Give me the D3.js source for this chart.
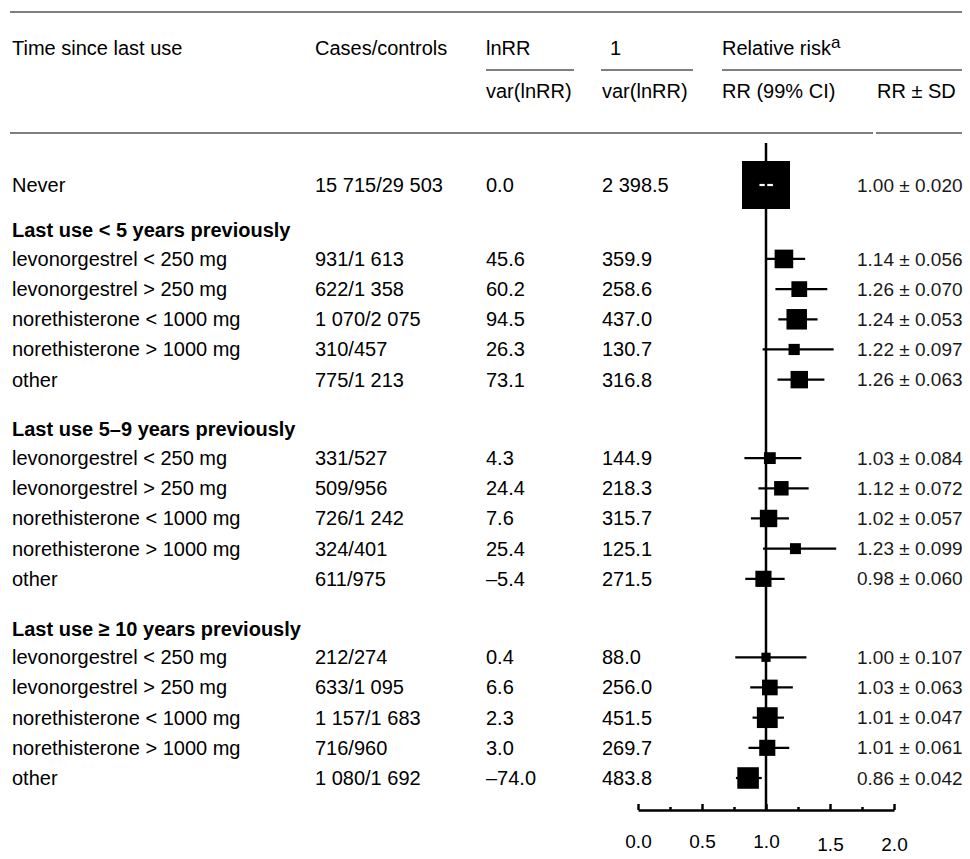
<!DOCTYPE html>
<html>
<head>
<meta charset="utf-8">
<script src="https://cdnjs.cloudflare.com/ajax/libs/d3/7.8.5/d3.min.js"></script>
<style>
  html, body { margin: 0; padding: 0; background: #fff; }
  svg { display: block; font-family: "Liberation Sans", Arial, sans-serif; }
  .rule { stroke: #555; stroke-width: 1.5; }
  .cell { font-size: 20px; fill: #000; }
  .group { font-size: 20px; font-weight: bold; fill: #000; }
  .rrsd { font-size: 19px; fill: #1a1a1a; }
  .axis path, .axis line { stroke: #000; stroke-width: 2.5; }
  .axis text { font-family: "Liberation Sans", Arial, sans-serif; font-size: 19px; fill: #000; }
</style>
</head>
<body>
<svg id="chart" width="970" height="859"></svg>
<script>
var groupTitles = [
  "Last use < 5 years previously",
  "Last use 5\u20139 years previously",
  "Last use \u2265 10 years previously"
];
var drugs = [
  "levonorgestrel < 250 mg",
  "levonorgestrel > 250 mg",
  "norethisterone < 1000 mg",
  "norethisterone > 1000 mg",
  "other"
];
// first entry is "Never", then 3 groups x 5 drugs
var casesControls = [
  "15 715/29 503",
  "931/1 613", "622/1 358", "1 070/2 075", "310/457", "775/1 213",
  "331/527", "509/956", "726/1 242", "324/401", "611/975",
  "212/274", "633/1 095", "1 157/1 683", "716/960", "1 080/1 692"
];
var lnrrOverVar = [
  0.0,
  45.6, 60.2, 94.5, 26.3, 73.1,
  4.3, 24.4, 7.6, 25.4, -5.4,
  0.4, 6.6, 2.3, 3.0, -74.0
];
var invVar = [
  2398.5,
  359.9, 258.6, 437.0, 130.7, 316.8,
  144.9, 218.3, 315.7, 125.1, 271.5,
  88.0, 256.0, 451.5, 269.7, 483.8
];
var rr = [
  1.00,
  1.14, 1.26, 1.24, 1.22, 1.26,
  1.03, 1.12, 1.02, 1.23, 0.98,
  1.00, 1.03, 1.01, 1.01, 0.86
];
var sd = [
  0.020,
  0.056, 0.070, 0.053, 0.097, 0.063,
  0.084, 0.072, 0.057, 0.099, 0.060,
  0.107, 0.063, 0.047, 0.061, 0.042
];
var axisTicks = [0, 0.5, 1, 1.5, 2];
var minorTicks = [0.25, 0.75, 1.25, 1.75];

(function () {
  "use strict";
  var svg = d3.select("#chart");
  var z = 2.576; // 99% CI

  var loc = d3.formatLocale({ decimal: ".", thousands: " ", grouping: [3], currency: ["", ""], minus: "\u2013" });
  var f1 = loc.format(",.1f");
  var f2 = d3.format(".2f"), f3 = d3.format(".3f");

  // build rows with slot positions (blank gap before each group)
  var rows = [{ kind: "row", i: 0, label: "Never", slot: 0 }];
  groupTitles.forEach(function (t, g) {
    var h = 1.5 + g * 6.6;
    rows.push({ kind: "head", label: t, slot: h });
    drugs.forEach(function (d, k) {
      rows.push({ kind: "row", i: 1 + g * 5 + k, label: d, slot: h + 0.95 + k });
    });
  });
  var data = rows.filter(function (r) { return r.kind === "row"; });

  var y = d3.scaleLinear().domain([0, 19.65]).range([185, 778]);
  var x = d3.scaleLinear().domain([0, 2]).range([638, 894]);
  var side = d3.scaleSqrt().domain([0, d3.max(invVar)]).range([0, 48]);

  var col = { label: 12, cases: 315, lnrr: 486, inv: 602, rr: 722, rrsd: 857 };

  // rules
  svg.append("line").attr("class", "rule").attr("x1", 10).attr("x2", 962).attr("y1", 12).attr("y2", 12);
  svg.append("line").attr("class", "rule").attr("x1", 10).attr("x2", 873).attr("y1", 133).attr("y2", 133);
  svg.append("line").attr("class", "rule").attr("x1", 876).attr("x2", 962).attr("y1", 133).attr("y2", 133);
  [[486, 574], [601, 693], [722, 962]].forEach(function (s) {
    svg.append("line").attr("class", "rule").attr("x1", s[0]).attr("x2", s[1]).attr("y1", 70).attr("y2", 70);
  });

  // header
  var head = svg.append("g").attr("class", "cell");
  function htext(x0, y0, t) {
    return head.append("text").attr("class", "cell").attr("x", x0).attr("y", y0).attr("dy", "0.35em").text(t);
  }
  htext(col.label, 48, "Time since last use");
  htext(col.cases, 48, "Cases/controls");
  htext(col.lnrr, 48, "lnRR");
  htext(col.inv + 8, 48, "1");
  var rrHead = htext(col.rr, 48, "Relative risk");
  rrHead.append("tspan").attr("dy", "-0.4em").style("font-size", "17px").text("a");
  htext(col.lnrr, 91, "var(lnRR)");
  htext(col.inv, 91, "var(lnRR)");
  htext(col.rr, 91, "RR (99% CI)");
  htext(877, 91, "RR \u00b1 SD");

  // table body
  var body = svg.append("g");
  body.selectAll("text.group")
    .data(rows.filter(function (r) { return r.kind === "head"; }))
    .enter().append("text")
      .attr("class", "group")
      .attr("x", col.label)
      .attr("y", function (r) { return y(r.slot); })
      .attr("dy", "0.35em")
      .text(function (r) { return r.label; });

  var cells = [
    { x: col.label, t: function (r) { return r.label; } },
    { x: col.cases, t: function (r) { return casesControls[r.i]; } },
    { x: col.lnrr, t: function (r) { return f1(lnrrOverVar[r.i]); } },
    { x: col.inv, t: function (r) { return f1(invVar[r.i]); } }
  ];
  cells.forEach(function (c) {
    body.selectAll(null)
      .data(data)
      .enter().append("text")
        .attr("class", "cell")
        .attr("x", c.x)
        .attr("y", function (r) { return y(r.slot); })
        .attr("dy", "0.35em")
        .text(c.t);
  });
  body.selectAll("text.rrsd")
    .data(data)
    .enter().append("text")
      .attr("class", "rrsd")
      .attr("x", col.rrsd)
      .attr("y", function (r) { return y(r.slot); })
      .attr("dy", "0.35em")
      .text(function (r) { return f2(rr[r.i]) + " \u00b1 " + f3(sd[r.i]); });

  // forest plot
  var plot = svg.append("g");
  var marks = plot.selectAll("g.mark")
    .data(data)
    .enter().append("g")
      .attr("class", "mark");

  function ci(r) {
    var se = 1 / Math.sqrt(invVar[r.i]);
    return [rr[r.i] * Math.exp(-z * se), rr[r.i] * Math.exp(z * se)];
  }

  marks.append("rect")
      .attr("x", function (r) { return x(rr[r.i]) - side(invVar[r.i]) / 2; })
      .attr("y", function (r) { return y(r.slot) - side(invVar[r.i]) / 2; })
      .attr("width", function (r) { return side(invVar[r.i]); })
      .attr("height", function (r) { return side(invVar[r.i]); })
      .attr("fill", "#000");

  marks.append("line")
      .attr("x1", function (r) { return x(ci(r)[0]); })
      .attr("x2", function (r) { return x(ci(r)[1]); })
      .attr("y1", function (r) { return y(r.slot); })
      .attr("y2", function (r) { return y(r.slot); })
      .attr("stroke-width", 2.2)
      .attr("stroke", function (r) {
        var h = side(invVar[r.i]) / 2, c = ci(r);
        var inside = x(c[0]) > x(rr[r.i]) - h && x(c[1]) < x(rr[r.i]) + h;
        return inside ? "#fff" : "#000";
      });

  var axisY = 810;
  plot.append("line")
      .attr("x1", x(1)).attr("x2", x(1))
      .attr("y1", 143).attr("y2", axisY)
      .attr("stroke", "#000")
      .attr("stroke-width", 2.5);

  var gAxis = svg.append("g")
      .attr("class", "axis")
      .attr("transform", "translate(0," + axisY + ")")
      .call(d3.axisBottom(x)
        .tickValues(axisTicks)
        .tickFormat(d3.format(".1f"))
        .tickSizeInner(-6)
        .tickSizeOuter(0)
        .tickPadding(25));
  gAxis.selectAll(".tick text")
      .attr("y", function (d) { return d >= 1.5 ? 28 : 25; });

  svg.append("g")
      .attr("class", "axis")
      .attr("transform", "translate(0," + axisY + ")")
      .call(d3.axisBottom(x)
        .tickValues(minorTicks)
        .tickFormat("")
        .tickSizeInner(-3)
        .tickSizeOuter(0))
    .select(".domain").remove();
}());
</script>
</body>
</html>
